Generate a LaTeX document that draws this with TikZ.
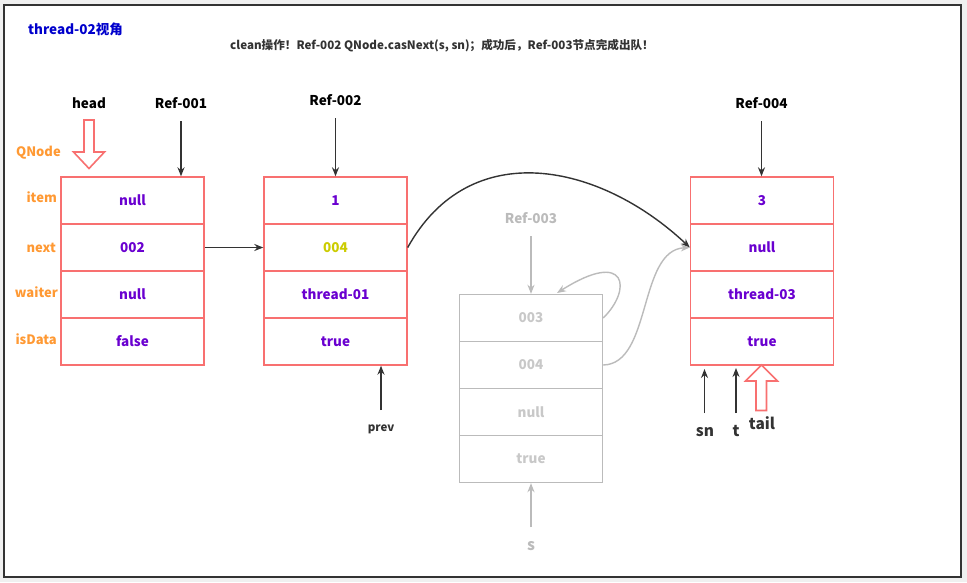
\documentclass[tikz,border=0pt]{standalone}
\usepackage{fontspec}
\setmainfont{Noto Sans CJK SC}
\usetikzlibrary{arrows.meta}
\definecolor{cellred}{HTML}{F87070}
\definecolor{valpurple}{HTML}{6A00D0}
\definecolor{valyellow}{HTML}{CCCC00}
\definecolor{fieldorange}{HTML}{FF9933}
\definecolor{ghostline}{HTML}{BBBBBB}
\definecolor{ghosttext}{HTML}{C8C8C8}
\definecolor{inkdark}{HTML}{333333}
\definecolor{titleblue}{HTML}{0000CC}
\tikzset{
  cell/.style={draw=cellred, line width=1.4pt, minimum width=143pt, minimum height=47pt,
    inner sep=0pt, text=valpurple, font=\fontsize{13.5}{15}\selectfont\bfseries},
  ghostcell/.style={cell, draw=ghostline, text=ghosttext},
  field/.style={anchor=east, text=fieldorange, font=\fontsize{13}{14}\selectfont\bfseries, inner sep=0pt},
  reflabel/.style={text=black, font=\fontsize{13.5}{15}\selectfont\bfseries, inner sep=0pt},
  varlabel/.style={text=inkdark, font=\fontsize{15.5}{17}\selectfont\bfseries, inner sep=0pt},
  pointer/.style={draw=inkdark, line width=1.4pt, -{Stealth[length=9pt,width=7pt]}},
  ghostpointer/.style={draw=ghostline, line width=1.4pt, -{Stealth[length=9pt,width=7pt]}},
  hollow/.style={draw=cellred, line width=1.6pt, fill=white, line join=miter},
}
\begin{document}
\begin{tikzpicture}[x=1pt, y=-1pt]
% canvas and frame
\fill[gray!12] (0,0) rectangle (967,582);
\draw[fill=white, draw=inkdark, line width=1.8pt] (4,5) rectangle (961,577);
\useasboundingbox (0,0) rectangle (967,582);

% headings
\node[anchor=west, text=titleblue, font=\fontsize{13.5}{15}\selectfont\bfseries, inner sep=0pt] (title) at (28,29) {thread-02视角};
\node[anchor=west, text=inkdark, font=\fontsize{11.6}{13}\selectfont\bfseries, inner sep=0pt] (note) at (230,46)
  {clean操作！Ref-002 QNode.casNext(s, sn)；成功后，Ref-003节点完成出队！};

% node Ref-001
\node[cell] (a1) at (132.5,200.5) {null};
\node[cell] (a2) at (132.5,247.5) {002};
\node[cell] (a3) at (132.5,294.5) {null};
\node[cell] (a4) at (132.5,341.5) {false};

% node Ref-002
\node[cell] (b1) at (335.5,200.5) {1};
\node[cell, text=valyellow] (b2) at (335.5,247.5) {004};
\node[cell] (b3) at (335.5,294.5) {thread-01};
\node[cell] (b4) at (335.5,341.5) {true};

% node Ref-004
\node[cell] (d1) at (762,200.5) {3};
\node[cell] (d2) at (762,247.5) {null};
\node[cell] (d3) at (762,294.5) {thread-03};
\node[cell] (d4) at (762,341.5) {true};

% node Ref-003 (unlinked)
\node[ghostcell] (c1) at (531,318) {003};
\node[ghostcell] (c2) at (531,365) {004};
\node[ghostcell] (c3) at (531,412) {null};
\node[ghostcell] (c4) at (531,459) {true};

% field names
\node[field] (fQ) at (61,153) {QNode};
\node[field] (fi) at (57,197.5) {item};
\node[field] (fn) at (56,248) {next};
\node[field] (fw) at (58,292.5) {waiter};
\node[field] (fd) at (57,339.5) {isData};

% reference labels
\node[reflabel] (head) at (89,103) {head};
\node[reflabel] (r1) at (181,103) {Ref-001};
\node[reflabel] (r2) at (335.5,100) {Ref-002};
\node[reflabel] (r4) at (761.5,103) {Ref-004};
\node[reflabel, text=ghostline] (r3) at (531,218) {Ref-003};

\coordinate (r1s) at (181,121);
\coordinate (r2s) at (335.5,118);
\coordinate (r4s) at (761.5,121);
\coordinate (r3s) at (531,236);
\draw[pointer] (r1s) -- (r1s |- a1.north);
\draw[pointer] (r2s) -- (r2s |- b1.north);
\draw[pointer] (r4s) -- (r4s |- d1.north);
\draw[ghostpointer] (r3s) -- (r3s |- c1.north);

% head / tail hollow arrows
\draw[hollow] (84,120) -- (94,120) -- (94,152) -- (104.5,152) -- (89,168.5) -- (73.5,152) -- (84,152) -- cycle;
\draw[hollow] (756,410.5) -- (766.5,410.5) -- (766.5,381) -- (777.5,381) -- (761.5,365) -- (745.5,381) -- (756,381) -- cycle;

% links
\draw[pointer] (a2.east) -- (b2.west);
\draw[pointer] (b2.east) .. controls (470,135) and (600,163) .. (d2.west);
\draw[ghostpointer] (c1.east) .. controls (632,290) and (628,248) .. (557,293);
\draw[ghostpointer] (c2.east) .. controls (652,364) and (638,250) .. (d2.west);

% local variables
\node[text=inkdark, font=\fontsize{11.5}{13}\selectfont\bfseries, inner sep=0pt] (prev) at (381,429) {prev};
\coordinate (prevs) at (381,410);
\draw[pointer] (prevs) -- (prevs |- b4.south);

\node[varlabel] (sn) at (705,432) {sn};
\coordinate (sns) at (704.5,413);
\draw[pointer] (sns) -- ++(0,-44);
\node[varlabel] (t) at (736,431) {t};
\coordinate (ts) at (736,413);
\draw[pointer] (ts) -- ++(0,-45);
\node[varlabel] (tail) at (762,423) {tail};

\node[varlabel, text=ghostline] (s) at (531,546) {s};
\coordinate (ss) at (531,527);
\draw[ghostpointer] (ss) -- (ss |- c4.south);
\end{tikzpicture}
\end{document}
